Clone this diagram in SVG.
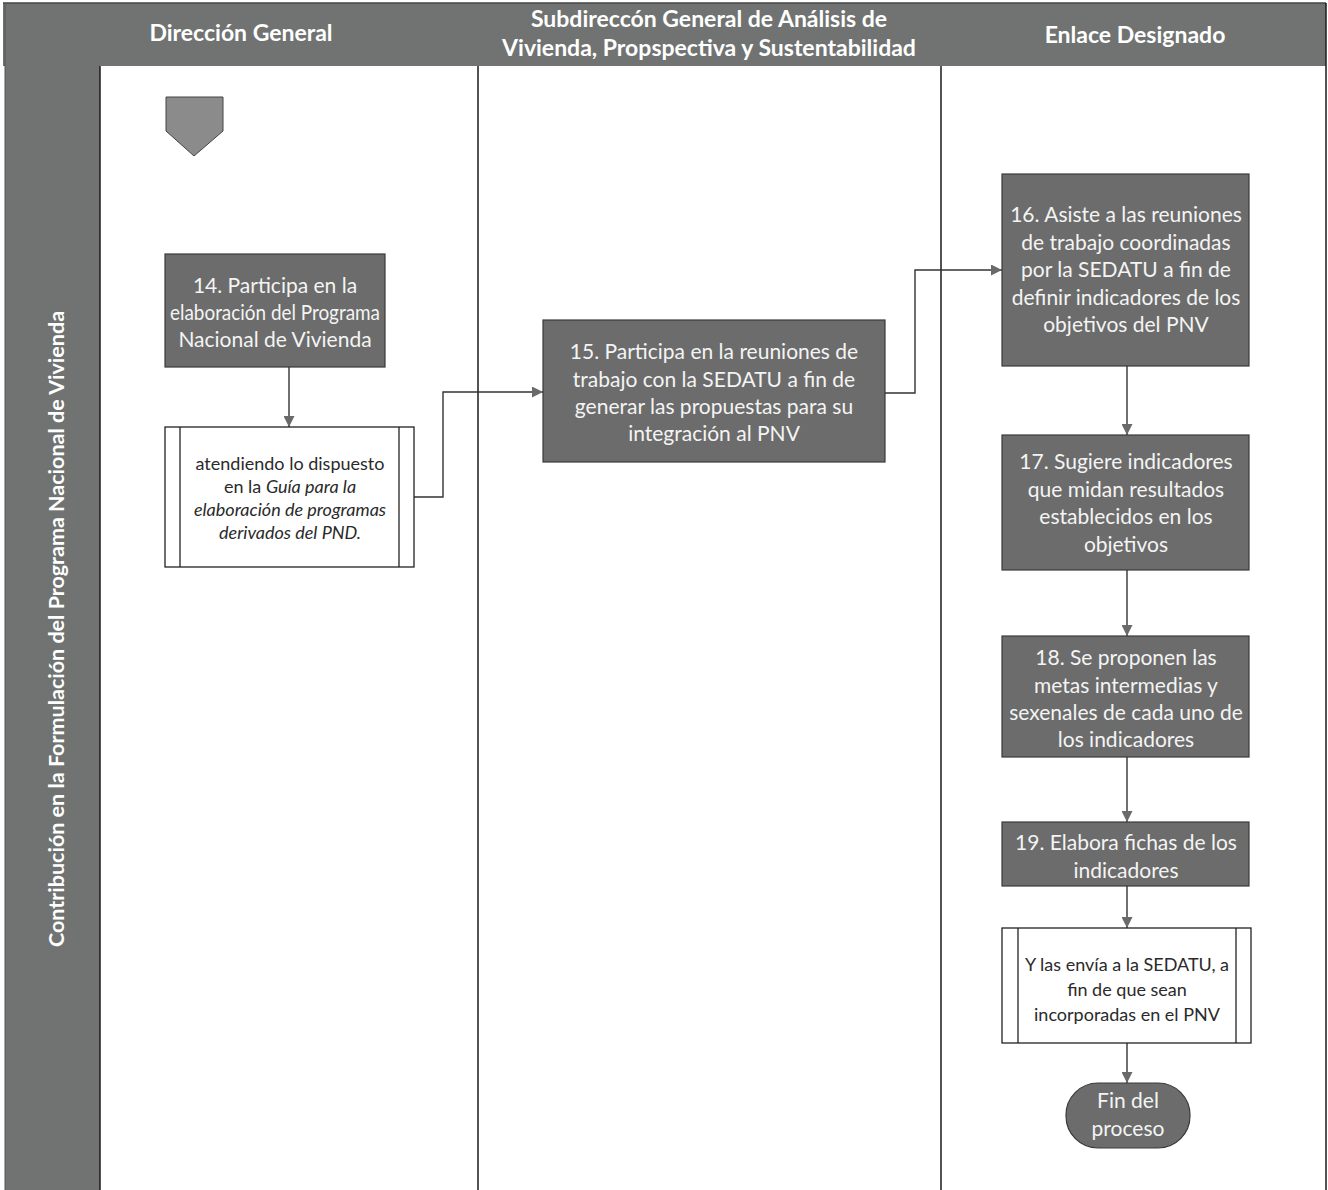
<svg xmlns="http://www.w3.org/2000/svg" width="1328" height="1190" viewBox="0 0 1328 1190">
  <defs>
    <marker id="arrow" viewBox="0 0 10 10" refX="10" refY="5" markerWidth="11" markerHeight="11" markerUnits="userSpaceOnUse" orient="auto">
      <path d="M0,0 L10,5 L0,10 z" fill="#6a6a6a"/>
    </marker>
  </defs>
  <style>
    .band { fill: #707371; }
    .lane-line { stroke: #1a1a1a; stroke-width: 1.5; fill: none; }
    .hdr { font-family: Lato, "Liberation Sans", sans-serif; font-weight: bold; font-size: 23px; fill: #ffffff; text-anchor: middle; }
    .side { font-family: Lato, "Liberation Sans", sans-serif; font-weight: bold; font-size: 21.5px; fill: #ffffff; text-anchor: middle; }
    .task { fill: #6b6c6b; stroke: #3a3a3a; stroke-width: 1.2; }
    .task-text { font-family: Lato, "Liberation Sans", sans-serif; font-size: 21px; fill: #f4f4f4; text-anchor: middle; }
    .sub { fill: #ffffff; stroke: #222222; stroke-width: 1.3; }
    .sub-line { stroke: #222222; stroke-width: 1.3; }
    .sub-text { font-family: Lato, "Liberation Sans", sans-serif; font-size: 18px; fill: #2a2a2a; text-anchor: middle; }
    .conn { stroke: #333333; stroke-width: 1.4; fill: none; marker-end: url(#arrow); }
  </style>

  <!-- page background -->
  <rect x="0" y="0" width="1328" height="1190" fill="#ffffff"/>

  <!-- header bar and left process band -->
  <rect class="band" x="3" y="3" width="1323" height="63"/>
  <rect class="band" x="5" y="3" width="95" height="1187"/>
  <line x1="3" y1="3" x2="1326" y2="3" stroke="#444" stroke-width="1.5"/>
  <line x1="5" y1="3" x2="5" y2="1190" stroke="#555" stroke-width="1"/>

  <!-- lane separators -->
  <line class="lane-line" x1="100" y1="66" x2="100" y2="1190"/>
  <line class="lane-line" x1="478" y1="66" x2="478" y2="1190"/>
  <line class="lane-line" x1="941" y1="66" x2="941" y2="1190"/>
  <line class="lane-line" x1="1326" y1="3" x2="1326" y2="1190"/>

  <!-- lane titles -->
  <g id="lane-titles">
    <text class="hdr" x="241" y="41">Dirección General</text>
    <text class="hdr" x="709" y="27">Subdireccón General de Análisis de</text>
    <text class="hdr" x="709" y="56">Vivienda, Propspectiva y Sustentabilidad</text>
    <text class="hdr" x="1135" y="43">Enlace Designado</text>
  </g>

  <!-- process name -->
  <text class="side" transform="translate(64,629) rotate(-90)">Contribución en la Formulación del Programa Nacional de Vivienda</text>

  <!-- connectors -->
  <g id="connectors">
    <path class="conn" d="M289,367 V427"/>
    <path class="conn" d="M414,497 H443 V392 H543"/>
    <path class="conn" d="M885,393 H915 V270 H1002"/>
    <path class="conn" d="M1127,366 V435"/>
    <path class="conn" d="M1127,570 V636"/>
    <path class="conn" d="M1127,757 V822"/>
    <path class="conn" d="M1127,886 V928"/>
    <path class="conn" d="M1127,1043 V1083"/>
  </g>

  <!-- off-page connector (entry) -->
  <g id="offpage-in">
    <path d="M166,97 H223 V131 L194,156 L166,131 Z" fill="#8a8b8a" stroke="#444" stroke-width="1"/>
  </g>

  <!-- 14 -->
  <g id="node-14">
    <rect class="task" x="165" y="254" width="220" height="113"/>
    <text class="task-text" x="275" y="293" font-size="20">14. Participa en la</text>
    <text class="task-text" x="275" y="320" font-size="20" textLength="210" lengthAdjust="spacingAndGlyphs">elaboración del Programa</text>
    <text class="task-text" x="275" y="347" font-size="20">Nacional de Vivienda</text>
  </g>

  <!-- predefined step under 14 -->
  <g id="node-guia">
    <rect class="sub" x="165" y="427" width="249" height="140"/>
    <line class="sub-line" x1="180" y1="427" x2="180" y2="567"/>
    <line class="sub-line" x1="399" y1="427" x2="399" y2="567"/>
    <text class="sub-text" x="290" y="470">atendiendo lo dispuesto</text>
    <text class="sub-text" x="290" y="493">en la <tspan font-style="italic">Guía para la</tspan></text>
    <text class="sub-text" x="290" y="516" font-style="italic">elaboración de programas</text>
    <text class="sub-text" x="290" y="539" font-style="italic">derivados del PND.</text>
  </g>

  <!-- 15 -->
  <g id="node-15">
    <rect class="task" x="543" y="320" width="342" height="142"/>
    <text class="task-text" x="714" y="359">15. Participa en la reuniones de</text>
    <text class="task-text" x="714" y="387">trabajo con la SEDATU a fin de</text>
    <text class="task-text" x="714" y="414">generar las propuestas para su</text>
    <text class="task-text" x="714" y="441">integración al PNV</text>
  </g>

  <!-- 16 -->
  <g id="node-16">
    <rect class="task" x="1002" y="174" width="247" height="192"/>
    <text class="task-text" x="1126" y="222">16. Asiste a las reuniones</text>
    <text class="task-text" x="1126" y="250">de trabajo coordinadas</text>
    <text class="task-text" x="1126" y="277">por la SEDATU a fin de</text>
    <text class="task-text" x="1126" y="305">definir indicadores de los</text>
    <text class="task-text" x="1126" y="332">objetivos del PNV</text>
  </g>

  <!-- 17 -->
  <g id="node-17">
    <rect class="task" x="1002" y="435" width="247" height="135"/>
    <text class="task-text" x="1126" y="469">17. Sugiere indicadores</text>
    <text class="task-text" x="1126" y="497">que midan resultados</text>
    <text class="task-text" x="1126" y="524">establecidos en los</text>
    <text class="task-text" x="1126" y="552">objetivos</text>
  </g>

  <!-- 18 -->
  <g id="node-18">
    <rect class="task" x="1002" y="636" width="247" height="121"/>
    <text class="task-text" x="1126" y="665">18. Se proponen las</text>
    <text class="task-text" x="1126" y="693">metas intermedias y</text>
    <text class="task-text" x="1126" y="720">sexenales de cada uno de</text>
    <text class="task-text" x="1126" y="747">los indicadores</text>
  </g>

  <!-- 19 -->
  <g id="node-19">
    <rect class="task" x="1002" y="822" width="247" height="64"/>
    <text class="task-text" x="1126" y="850">19. Elabora fichas de los</text>
    <text class="task-text" x="1126" y="878">indicadores</text>
  </g>

  <!-- predefined step: send to SEDATU -->
  <g id="node-envia">
    <rect class="sub" x="1002" y="928" width="249" height="115"/>
    <line class="sub-line" x1="1018" y1="928" x2="1018" y2="1043"/>
    <line class="sub-line" x1="1236" y1="928" x2="1236" y2="1043"/>
    <text class="sub-text" x="1127" y="971">Y las envía a la SEDATU, a</text>
    <text class="sub-text" x="1127" y="996">fin de que sean</text>
    <text class="sub-text" x="1127" y="1021">incorporadas en el PNV</text>
  </g>

  <!-- end -->
  <g id="node-fin">
    <rect class="task" x="1066" y="1083" width="124" height="65" rx="32" ry="32"/>
    <text class="task-text" x="1128" y="1108">Fin del</text>
    <text class="task-text" x="1128" y="1136">proceso</text>
  </g>
</svg>
